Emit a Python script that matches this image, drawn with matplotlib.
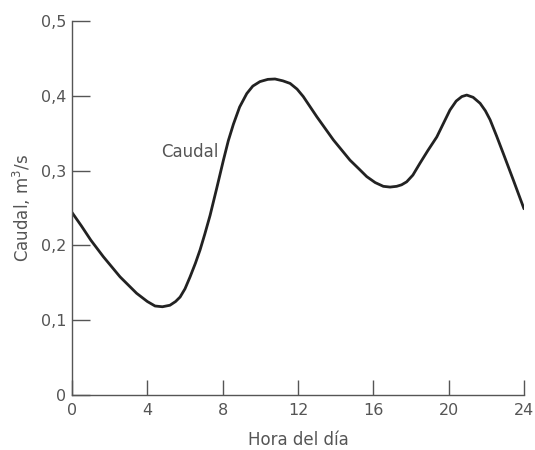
import matplotlib
matplotlib.use("Agg")
import matplotlib.pyplot as plt
from matplotlib.ticker import FuncFormatter

plt.rcParams["font.family"] = ["DejaVu Sans"]

# hour of day and flow (m3/s)
hours = [0, 0.5, 1, 1.66, 2.55, 3.43, 4, 4.41, 4.8, 5.2, 5.5, 5.74, 6, 6.27,
         6.55, 6.8, 7.05, 7.33, 7.68, 8.04, 8.3, 8.57, 8.9, 9.28, 9.6, 9.98,
         10.4, 10.78, 11.2, 11.58, 11.95, 12.28, 12.6, 13.0, 13.88, 14.76,
         15.25, 15.65, 16.1, 16.53, 16.89, 17.24, 17.5, 17.77, 18.1, 18.48,
         18.9, 19.37, 19.7, 20.07, 20.4, 20.7, 20.96, 21.3, 21.67, 21.95, 22.2,
         22.55, 22.9, 23.44, 24]
flow = [0.244, 0.226, 0.207, 0.185, 0.158, 0.136, 0.125, 0.119, 0.118, 0.120,
        0.125, 0.131, 0.142, 0.158, 0.176, 0.194, 0.215, 0.240, 0.276, 0.314,
        0.340, 0.362, 0.385, 0.403, 0.413, 0.419, 0.422, 0.4225, 0.420, 0.4166,
        0.409, 0.399, 0.387, 0.372, 0.341, 0.314, 0.302, 0.292, 0.284, 0.279,
        0.278, 0.279, 0.281, 0.285, 0.294, 0.310, 0.327, 0.345, 0.362, 0.381,
        0.393, 0.399, 0.401, 0.398, 0.390, 0.380, 0.368, 0.346, 0.323, 0.287,
        0.249]

x_ticks = [0, 4, 8, 12, 16, 20, 24]
y_ticks = [0, 0.1, 0.2, 0.3, 0.4, 0.5]

text_col = "#555555"
axis_col = "#555555"

fig = plt.figure(figsize=(5.35, 4.5), dpi=100)
ax = fig.add_axes([0.1346, 0.1222, 0.8448, 0.8311])

ax.plot(hours, flow, color="#222222", lw=2.0, solid_capstyle="round",
        solid_joinstyle="round")
ax.text(7.8, 0.325, "Caudal", ha="right", va="center", fontsize=12, color=text_col)

ax.set_xlim(0, 24)
ax.set_ylim(0, 0.5)
ax.set_xticks(x_ticks)
ax.set_yticks(y_ticks)


def comma_fmt(v, pos):
    if v == 0:
        return "0"
    return f"{v:.1f}".replace(".", ",")


ax.yaxis.set_major_formatter(FuncFormatter(comma_fmt))

for s in ["top", "right"]:
    ax.spines[s].set_visible(False)
for s in ["left", "bottom"]:
    ax.spines[s].set_color(axis_col)
    ax.spines[s].set_linewidth(1.0)

ax.tick_params(axis="both", direction="in", width=1.0, color=axis_col,
               labelcolor=text_col, labelsize=11.5)
ax.tick_params(axis="x", length=11, pad=6)
ax.tick_params(axis="y", length=13, pad=4)

ax.set_xlabel("Hora del día", fontsize=12, color=text_col, labelpad=9)
ax.set_ylabel("Caudal, m$^3$/s", fontsize=12, color=text_col, labelpad=6)

fig.savefig("out.png", dpi=100)
